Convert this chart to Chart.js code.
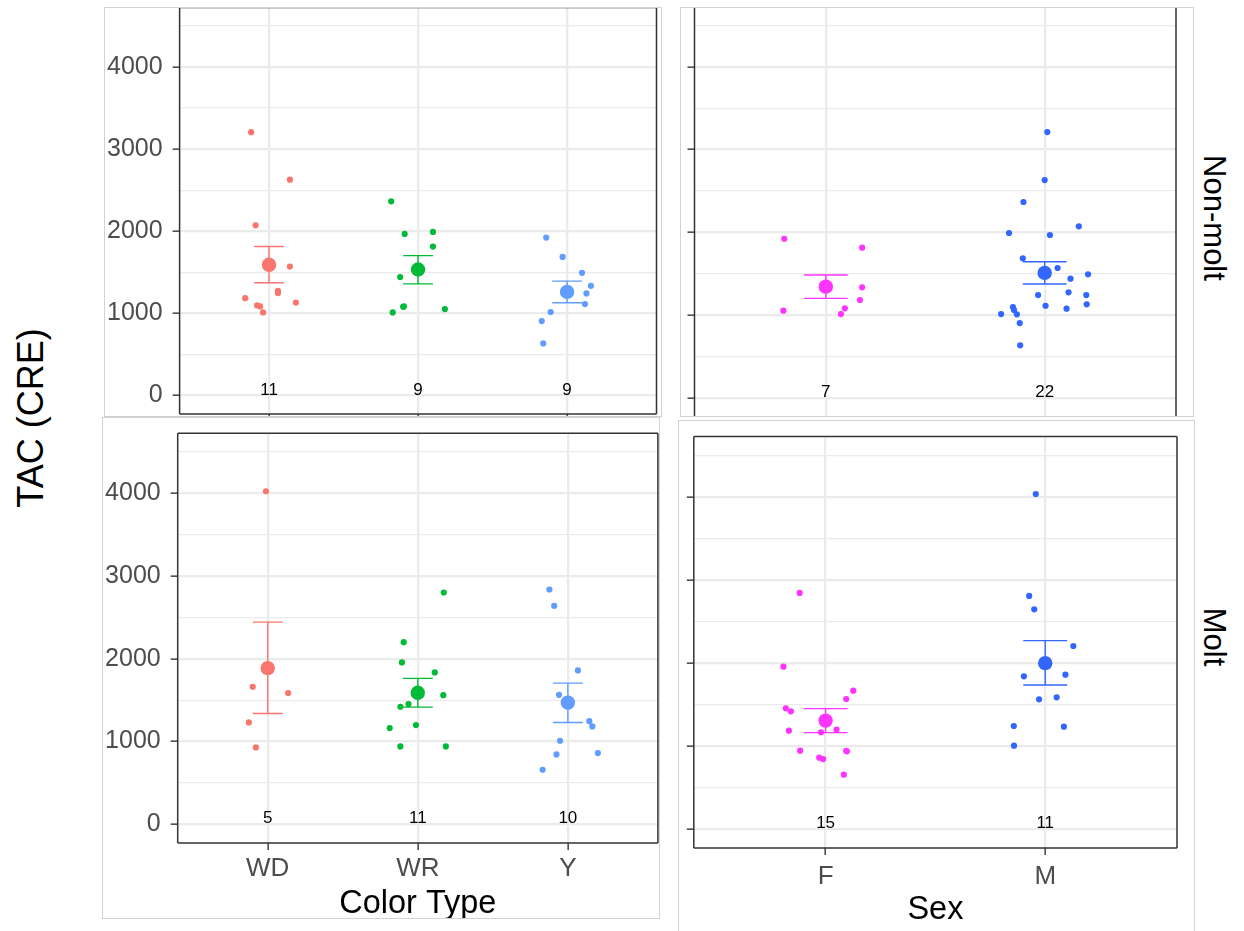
<!DOCTYPE html>
<html>
<head>
<meta charset="utf-8">
<script src="https://cdn.jsdelivr.net/npm/chart.js@4.4.1/dist/chart.umd.min.js"></script>
<style>
  html, body { margin: 0; padding: 0; background: #ffffff; }
  body { position: relative; width: 1244px; height: 931px; overflow: hidden;
         font-family: "Liberation Sans", Arial, Helvetica, sans-serif; }
  .frame { position: absolute; border: 1px solid #d2d2d2; box-sizing: border-box;
           overflow: hidden; background: #ffffff; }
  .frame canvas { position: absolute; }
  .lbl { position: absolute; white-space: nowrap; line-height: 1; color: #000; }
</style>
</head>
<body>
<div class="lbl" id="ylab" style="left:31px; top:417.5px; font-size:36px; transform:translate(-50%,-50%) rotate(-90deg);">TAC (CRE)</div>
<div class="lbl" id="strip1" style="left:1213.5px; top:217.5px; font-size:31px; transform:translate(-50%,-50%) rotate(90deg);">Non-molt</div>
<div class="lbl" id="strip2" style="left:1213.5px; top:637px; font-size:31px; transform:translate(-50%,-50%) rotate(90deg);">Molt</div>

<script>
// ---------------- data ----------------
const yTickValues = [0, 500, 1000, 1500, 2000, 2500, 3000, 3500, 4000, 4500];
const yMin = -225, yMax = 4725;

const colorCats = ['WD', 'WR', 'Y'];
const sexCats = ['F', 'M'];
const colorTypeColors = ['#F8766D', '#00BA38', '#619CFF'];
const sexColors = ['#FF33FF', '#3366FF'];

// Non-molt, by colour type
const nmWD = [3207, 2628, 2073, 1571, 1275, 1247, 1186, 1133, 1097, 1085, 1012];
const nmWDJitter = [-0.12, 0.14, -0.09, 0.14, 0.06, 0.06, -0.16, 0.18, -0.08, -0.06, -0.04];
const nmWR = [2365, 1968, 1992, 1814, 1442, 1081, 1085, 1012, 1053];
const nmWRJitter = [-0.18, -0.09, 0.10, 0.10, -0.12, -0.10, -0.095, -0.17, 0.18];
const nmY = [1923, 1688, 1494, 1336, 1243, 1114, 1017, 907, 635];
const nmYJitter = [-0.14, -0.03, 0.10, 0.16, 0.13, 0.12, -0.11, -0.17, -0.16];
const nmColorMeans = [1592, 1535, 1262];
const nmColorLow = [1373, 1360, 1130];
const nmColorHigh = [1814, 1704, 1393];
const nmColorN = [11, 9, 9];

// Non-molt, by sex
const nmF = [1925, 1817, 1339, 1186, 1057, 1086, 1017];
const nmFJitter = [-0.19, 0.166, 0.166, 0.156, -0.194, 0.087, 0.069];
const nmM = [3212, 2633, 2368, 1994, 1970, 2075, 1689, 1572, 1443, 1496, 1246,
             1279, 1246, 1134, 1117, 1081, 1101, 1065, 1013, 1017, 908, 639];
const nmMJitter = [0.012, 0, -0.097, -0.163, 0.024, 0.156, -0.10, 0.059, 0.118, 0.198, -0.03,
                   0.109, 0.19, 0.192, 0.004, 0.10, -0.145, -0.14, -0.127, -0.199, -0.114, -0.112];
const nmSexMeans = [1347, 1513];
const nmSexLow = [1206, 1379];
const nmSexHigh = [1487, 1648];
const nmSexN = [7, 22];

// Molt, by colour type
const mWD = [4024, 1662, 1586, 1231, 930];
const mWDJitter = [-0.012, -0.10, 0.136, -0.126, -0.079];
const mWR = [2801, 2201, 1956, 1835, 1561, 1453, 1421, 1199, 1163, 942, 942];
const mWRJitter = [0.173, -0.094, -0.106, 0.113, 0.170, -0.062, -0.116, -0.012, -0.187, -0.116, 0.187];
const mY = [2837, 2640, 1859, 1565, 1247, 1183, 1010, 845, 861, 660];
const mYJitter = [-0.123, -0.091, 0.067, -0.059, 0.143, 0.163, -0.052, -0.076, 0.20, -0.168];
const mColorMeans = [1887, 1589, 1471];
const mColorLow = [1340, 1416, 1231];
const mColorHigh = [2443, 1763, 1706];
const mColorN = [5, 11, 10];

// Molt, by sex
const mF = [2842, 1956, 1667, 1567, 1455, 1419, 1186, 1167, 1198, 945, 942, 938, 861, 845, 657];
const mFJitter = [-0.118, -0.192, 0.126, 0.094, -0.181, -0.158, -0.167, -0.021, 0.05, -0.116, 0.094, 0.097, -0.029, -0.011, 0.083];
const mM = [4032, 2806, 2645, 2204, 1840, 1860, 1563, 1587, 1242, 1234, 1006];
const mMJitter = [-0.043, -0.073, -0.05, 0.128, -0.097, 0.092, -0.028, 0.052, -0.143, 0.085, -0.142];
const mSexMeans = [1307, 1998];
const mSexLow = [1162, 1735];
const mSexHigh = [1451, 2269];
const mSexN = [15, 11];

// ---------------- drawing ----------------
const FONT = '"Liberation Sans", Arial, Helvetica, sans-serif';

const panelBox = {
  id: 'panelBox',
  afterDraw(chart, args, opts) {
    const a = chart.chartArea, ctx = chart.ctx, s = opts.sides || '';
    ctx.save();
    ctx.strokeStyle = '#333333';
    ctx.lineWidth = 1.5;
    ctx.beginPath();
    if (s.includes('l')) { ctx.moveTo(a.left, a.top); ctx.lineTo(a.left, a.bottom); }
    if (s.includes('r')) { ctx.moveTo(a.right, a.top); ctx.lineTo(a.right, a.bottom); }
    if (s.includes('t')) { ctx.moveTo(a.left, a.top); ctx.lineTo(a.right, a.top); }
    if (s.includes('b')) { ctx.moveTo(a.left, a.bottom); ctx.lineTo(a.right, a.bottom); }
    ctx.stroke();
    ctx.restore();
  }
};

const countLabels = {
  id: 'countLabels',
  afterDatasetsDraw(chart, args, opts) {
    const xs = chart.scales.x, ys = chart.scales.y, ctx = chart.ctx;
    ctx.save();
    ctx.font = '17px ' + FONT;
    ctx.fillStyle = '#000000';
    ctx.textAlign = 'center';
    ctx.textBaseline = 'alphabetic';
    (opts.values || []).forEach((n, i) => {
      ctx.fillText(String(n), xs.getPixelForValue(i + 1), ys.getPixelForValue(0) - 1);
    });
    ctx.restore();
  }
};

function buildDatasets(cats, colors, values, jitters, means, lows, highs) {
  const ds = [];
  cats.forEach((c, i) => {
    const x = i + 1, col = colors[i];
    ds.push({
      label: c, data: values[i].map((v, k) => ({ x: x + jitters[i][k], y: v })),
      pointRadius: 3.1, pointHoverRadius: 3.1, backgroundColor: col, borderColor: col,
      pointBorderWidth: 0, borderWidth: 0, order: 3
    });
    ds.push({
      label: c + ' SE', showLine: true, spanGaps: false,
      data: [
        { x: x - 0.1, y: highs[i] }, { x: x + 0.1, y: highs[i] }, { x: x, y: null },
        { x: x, y: highs[i] }, { x: x, y: lows[i] }, { x: x, y: null },
        { x: x - 0.1, y: lows[i] }, { x: x + 0.1, y: lows[i] }
      ],
      borderColor: col, borderWidth: 1.4, pointRadius: 0, pointHoverRadius: 0, order: 2
    });
    ds.push({
      label: c + ' mean', data: [{ x: x, y: means[i] }],
      pointRadius: 7.2, pointHoverRadius: 7.2, backgroundColor: col, borderColor: col,
      pointBorderWidth: 0, borderWidth: 0, order: 1
    });
  });
  return ds;
}

function makePanel(p) {
  const M = 40, XH = 110;
  const frame = document.createElement('div');
  frame.className = 'frame';
  frame.style.left = p.frame.l + 'px';
  frame.style.top = p.frame.t + 'px';
  frame.style.width = p.frame.w + 'px';
  frame.style.height = p.frame.h + 'px';
  document.body.appendChild(frame);

  const cl = p.frame.l - M, ct = p.frame.t - M;
  const cr = p.frame.l + p.frame.w + M;
  const cb = Math.max(p.frame.t + p.frame.h + M, p.area.b + XH + 20);
  const cw = cr - cl, ch = cb - ct;
  const canvas = document.createElement('canvas');
  canvas.width = cw; canvas.height = ch;
  canvas.style.width = cw + 'px'; canvas.style.height = ch + 'px';
  canvas.style.left = (cl - p.frame.l - 1) + 'px';
  canvas.style.top = (ct - p.frame.t - 1) + 'px';
  frame.appendChild(canvas);

  const YW = p.area.l - cl;
  const padTop = p.area.t - ct;
  const padRight = cr - p.area.r;
  const padBottom = cb - p.area.b - XH;
  const cats = p.cats;
  const isMajor = c => c.tick && c.tick.value % 1000 === 0;

  new Chart(canvas, {
    type: 'scatter',
    data: { datasets: buildDatasets(cats, p.colors, p.values, p.jitters, p.means, p.lows, p.highs) },
    plugins: [countLabels, panelBox],
    options: {
      responsive: false, animation: false, devicePixelRatio: 1,
      layout: { padding: { left: 0, top: padTop, right: padRight, bottom: padBottom } },
      plugins: {
        legend: { display: false }, tooltip: { enabled: false },
        panelBox: { sides: p.sides }, countLabels: { values: p.counts }
      },
      scales: {
        x: {
          type: 'linear', position: 'bottom', bounds: 'data',
          min: 0.4, max: cats.length + 0.6,
          afterBuildTicks: s => { s.ticks = cats.map((c, i) => ({ value: i + 1 })); },
          afterFit: s => { s.height = XH; },
          ticks: {
            display: p.showX, autoSkip: false, maxRotation: 0, minRotation: 0,
            callback: (v, i) => cats[i],
            font: { family: FONT, size: 26 }, color: '#4D4D4D', padding: p.xPad
          },
          grid: { color: '#EBEBEB', lineWidth: 2.3, drawTicks: true, tickLength: 7,
                  tickColor: '#333333', tickWidth: 1.4 },
          border: { display: false },
          title: { display: !!p.xTitle, text: p.xTitle || '', color: '#000000',
                   font: { family: FONT, size: 32.5 }, padding: { top: 0, bottom: p.xTitlePad || 0 } }
        },
        y: {
          type: 'linear', bounds: 'data', min: yMin, max: yMax,
          afterBuildTicks: s => { s.ticks = yTickValues.map(v => ({ value: v })); },
          afterFit: s => { s.width = YW; },
          ticks: {
            display: p.showY, autoSkip: false,
            callback: v => (v % 1000 === 0 ? String(v) : ''),
            font: { family: FONT, size: 25 }, color: '#4D4D4D', padding: 10
          },
          grid: {
            color: '#EBEBEB', lineWidth: c => (isMajor(c) ? 2.3 : 1.2),
            drawTicks: true, tickLength: 7,
            tickColor: c => (isMajor(c) ? '#333333' : 'rgba(0,0,0,0)'), tickWidth: 1.4
          },
          border: { display: false }
        }
      }
    }
  });
}

makePanel({
  frame: { l: 104, t: 7, w: 558, h: 410 }, area: { l: 179.6, t: 7.5, r: 656.5, b: 414 },
  cats: colorCats, colors: colorTypeColors,
  values: [nmWD, nmWR, nmY], jitters: [nmWDJitter, nmWRJitter, nmYJitter],
  means: nmColorMeans, lows: nmColorLow, highs: nmColorHigh, counts: nmColorN,
  showX: false, showY: true, sides: 'lrtb', xPad: 3
});
makePanel({
  frame: { l: 680, t: 7, w: 514, h: 410 }, area: { l: 694.5, t: 6.6, r: 1176, b: 417 },
  cats: sexCats, colors: sexColors,
  values: [nmF, nmM], jitters: [nmFJitter, nmMJitter],
  means: nmSexMeans, lows: nmSexLow, highs: nmSexHigh, counts: nmSexN,
  showX: false, showY: false, sides: 'lr', xPad: 3
});
makePanel({
  frame: { l: 102, t: 417, w: 558, h: 502 }, area: { l: 177.7, t: 433.2, r: 657.9, b: 843.3 },
  cats: colorCats, colors: colorTypeColors,
  values: [mWD, mWR, mY], jitters: [mWDJitter, mWRJitter, mYJitter],
  means: mColorMeans, lows: mColorLow, highs: mColorHigh, counts: mColorN,
  showX: true, showY: true, sides: 'lrtb', xPad: 3, xTitle: 'Color Type', xTitlePad: 29
});
makePanel({
  frame: { l: 678, t: 420, w: 517, h: 520 }, area: { l: 693.8, t: 436.4, r: 1177, b: 848 },
  cats: sexCats, colors: sexColors,
  values: [mF, mM], jitters: [mFJitter, mMJitter],
  means: mSexMeans, lows: mSexLow, highs: mSexHigh, counts: mSexN,
  showX: true, showY: false, sides: 'lrtb', xPad: 6, xTitle: 'Sex', xTitlePad: 28.5
});
</script>
</body>
</html>
